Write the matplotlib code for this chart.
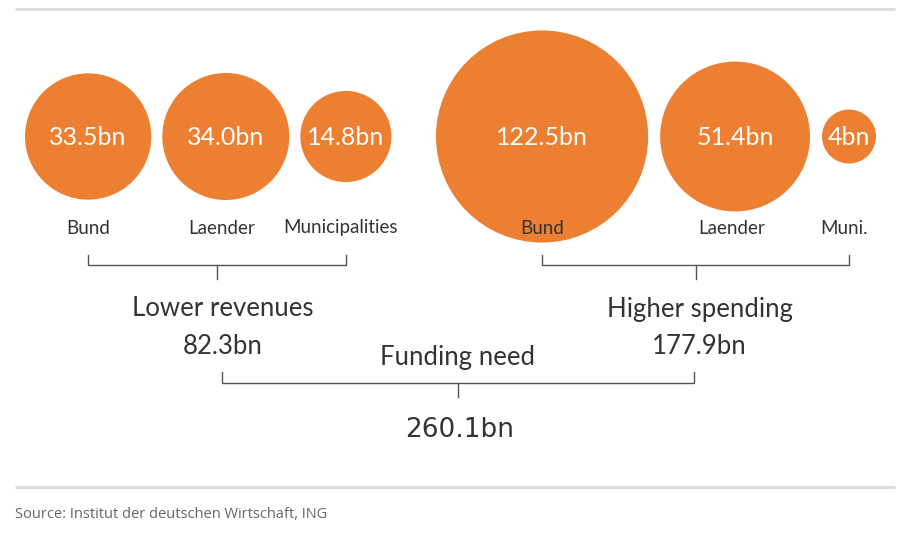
import matplotlib
matplotlib.use("Agg")
import matplotlib.pyplot as plt
from matplotlib.patches import Circle

# data
rev_labels = ["Bund", "Laender", "Municipalities"]
rev_values = [33.5, 34.0, 14.8]
spend_labels = ["Bund", "Laender", "Muni."]
spend_values = [122.5, 51.4, 4]
rev_title = "Lower revenues"
spend_title = "Higher spending"
total_title = "Funding need"
total_value = 260.1

ORANGE = "#EC7F32"
TEXT = "#333333"
FONT = "Lato"

W, H = 902, 533
fig = plt.figure(figsize=(W / 100, H / 100), dpi=100)
ax = fig.add_axes([0, 0, 1, 1])
ax.set_xlim(0, W)
ax.set_ylim(H, 0)
ax.axis("off")

CY = 136.5  # circle row centre


def radius(v):
    return 15.5 * v ** 0.4


def draw_group(labels, values, x_start, gap, lab_shift):
    x = x_start
    centers = []
    for lab, v, dx in zip(labels, values, lab_shift):
        r = radius(v)
        cx = x + r
        ax.add_patch(Circle((cx, CY), r, facecolor=ORANGE, edgecolor="none", zorder=1))
        ax.text(cx, CY + 1, f"{v}bn", color="white", fontsize=18, family=FONT,
                ha="center", va="center", zorder=3)
        ax.text(cx + dx, 228, lab, color=TEXT, fontsize=13.5, family=FONT,
                ha="center", va="center", zorder=3)
        centers.append(cx)
        x = cx + r + gap
    return centers


def bracket(x0, x1, y, up=10, down=14):
    mid = (x0 + x1) / 2
    ax.plot([x0, x0, x1, x1], [y - up, y, y, y - up], color="#555555", lw=1.0,
            solid_joinstyle="miter", zorder=2)
    ax.plot([mid, mid], [y, y + down], color="#555555", lw=1.0, zorder=2)
    return mid


left_c = draw_group(rev_labels, rev_values, 25, 11, [0, -4, -5])
right_c = draw_group(spend_labels, spend_values, 436, 12, [0, -3, -5])

lm = bracket(left_c[0], left_c[-1], 265)
rm = bracket(right_c[0], right_c[-1], 265)

big = dict(color=TEXT, fontsize=18.5, family=FONT, ha="center", va="center")
ax.text(lm + 6, 309, rev_title, **big)
ax.text(lm + 6, 346, f"{sum(rev_values):.1f}bn", **big)
ax.text(rm + 4, 309, spend_title, **big)
ax.text(rm + 4, 346, f"{sum(spend_values):.1f}bn", **big)

bm = bracket(lm + 5, rm - 2, 383, up=11, down=14)
ax.text(bm, 358, total_title, **big)
ax.text(bm + 2, 430, f"{total_value}bn", color=TEXT, fontsize=19, family="DejaVu Sans",
        ha="center", va="center")

# frame lines and source
for yy in (9, 487):
    ax.plot([15, 895], [yy, yy], color="#dcdcdc", lw=2.2, solid_capstyle="butt")
ax.text(15, 515, "Source: Institut der deutschen Wirtschaft, ING", color="#666666",
        fontsize=10.5, family="Open Sans", ha="left", va="center")

fig.savefig("out.png", dpi=100)
